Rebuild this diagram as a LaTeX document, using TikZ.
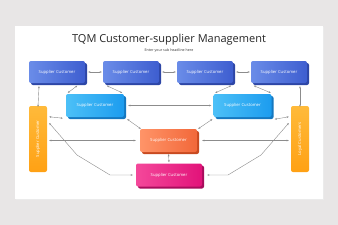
\documentclass[tikz,border=0pt]{standalone}
\usepackage{fontspec}
\setmainfont{Open Sans}
\usetikzlibrary{shadows,arrows.meta,calc}
\definecolor{bgc}{HTML}{E8E6E6}
\definecolor{blueL}{HTML}{6A8CE8}
\definecolor{blueR}{HTML}{3E5ED0}
\definecolor{blueD}{HTML}{2D46A6}
\definecolor{skyL}{HTML}{4CC0F7}
\definecolor{skyR}{HTML}{1C9CEF}
\definecolor{skyD}{HTML}{1578C0}
\definecolor{orL}{HTML}{FF9468}
\definecolor{orR}{HTML}{F2683A}
\definecolor{orD}{HTML}{C84A20}
\definecolor{pkL}{HTML}{F4489A}
\definecolor{pkR}{HTML}{E2137A}
\definecolor{pkD}{HTML}{A80D5C}
\definecolor{ylT}{HTML}{FFBA3A}
\definecolor{ylB}{HTML}{FFA114}
\definecolor{linec}{HTML}{8C8C8C}
\tikzset{
  box/.style={rounded corners=2pt, minimum width=56pt, minimum height=22pt, inner sep=0pt,
    text=white, font=\fontsize{4.2}{5}\selectfont},
  bluebox/.style={box, left color=blueL, right color=blueR,
    general shadow={shadow xshift=2pt, shadow yshift=-2pt, fill=blueD}},
  skybox/.style={box, minimum width=58pt, minimum height=23pt, left color=skyL, right color=skyR,
    general shadow={shadow xshift=2pt, shadow yshift=-2pt, fill=skyD}},
  orbox/.style={box, minimum width=57pt, minimum height=23pt, left color=orL, right color=orR,
    general shadow={shadow xshift=2pt, shadow yshift=-2pt, fill=orD}},
  pkbox/.style={box, minimum width=66pt, minimum height=23pt, left color=pkL, right color=pkR,
    general shadow={shadow xshift=2pt, shadow yshift=-2pt, fill=pkD}},
  bar/.style={rounded corners=2pt, minimum width=18pt, minimum height=66pt, inner sep=0pt,
    top color=ylT, bottom color=ylB, text=white, font=\fontsize{4.2}{5}\selectfont},
  conn/.style={draw=linec, line width=0.4pt, {Stealth[length=2.2pt,width=1.8pt]}-{Stealth[length=2.2pt,width=1.8pt]}}
}
\begin{document}
\begin{tikzpicture}[x=1pt,y=-1pt]
\fill[bgc] (0,0) rectangle (338,225);
\useasboundingbox (0,0) rectangle (338,225);
\fill[black!8] (15.6,26.6) rectangle (323.6,199.6);
\fill[white] (15,26) rectangle (323,199);
\node[font=\fontsize{11}{13}\selectfont, text=black!85] (title) at (169,40) {TQM Customer-supplier Management};
\node[font=\fontsize{3.6}{4}\selectfont, text=black!80] (sub) at (169,51) {Enter your sub headline here};

\node[bluebox] (b1) at (57,72) {Supplier Customer};
\node[bluebox] (b2) at (131,72) {Supplier Customer};
\node[bluebox] (b3) at (205,72) {Supplier Customer};
\node[bluebox] (b4) at (279,72) {Supplier Customer};
\node[skybox] (ma) at (95,105.5) {Supplier Customer};
\node[skybox] (mb) at (242.5,105.5) {Supplier Customer};
\node[orbox] (oc) at (168.5,140.5) {Supplier Customer};
\node[pkbox] (pk) at (169,175) {Supplier Customer};
\node[bar] (lb) at (38,139) {};
\node[rotate=90, text=white, font=\fontsize{4.2}{5}\selectfont] (lbt) at (lb.center) {Supplier Customer};
\node[bar] (rb) at (300,139) {};
\node[rotate=90, text=white, font=\fontsize{4.2}{5}\selectfont] (rbt) at (rb.center) {Loyal Customers};

% top row horizontal
\draw[conn] ([xshift=3pt]b1.east) -- ([xshift=-1pt]b2.west);
\draw[conn] ([xshift=3pt]b2.east) -- ([xshift=-1pt]b3.west);
\draw[conn] ([xshift=3pt]b3.east) -- ([xshift=-1pt]b4.west);
% verticals to bars
\draw[conn] ([xshift=-18pt,yshift=-3pt]b1.south) -- ([yshift=-1pt]lb.north);
\draw[conn] ([xshift=21pt,yshift=-3pt]b4.south) -- ([yshift=-1pt]rb.north);
% diagonals top to middle
\draw[conn] ([xshift=-8pt,yshift=-2.5pt]b1.south east) -- ([xshift=2pt,yshift=1pt]ma.north west);
\draw[conn] ([xshift=4pt,yshift=-2.5pt]b2.south west) -- ([xshift=-2pt,yshift=1pt]ma.north east);
\draw[conn] ([xshift=-2pt,yshift=-2.5pt]b3.south east) -- ([xshift=2pt,yshift=1pt]mb.north west);
\draw[conn] ([xshift=3pt,yshift=-2.5pt]b4.south west) -- ([xshift=-1pt,yshift=1pt]mb.north east);
% middle horizontal
\draw[conn] ([xshift=4pt]ma.east) -- ([xshift=-2pt]mb.west);
% middle to bars / orange
\draw[conn] ([xshift=-3pt,yshift=-1pt]ma.south west) -- ([xshift=2pt,yshift=-11pt]lb.north east);
\draw[conn] ([xshift=3pt,yshift=-2pt]ma.south east) -- ([xshift=1pt,yshift=0pt]oc.north west);
\draw[conn] ([xshift=-1pt,yshift=-2pt]mb.south west) -- ([xshift=1pt,yshift=0pt]oc.north east);
\draw[conn] ([xshift=3pt,yshift=-2pt]mb.south east) -- ([xshift=-2pt,yshift=-11pt]rb.north west);
% bars to orange
\draw[conn] ([xshift=2pt]lb.east |- oc.west) -- ([xshift=-4pt]oc.west);
\draw[conn] ([xshift=5pt]oc.east) -- ([xshift=-2pt]rb.west |- oc.east);
% orange to pink
\draw[conn] ([yshift=-2pt]oc.south) -- ([yshift=1pt]pk.north);
% bars to pink
\coordinate (l1) at (77,155);
\coordinate (l2) at (110,175);
\coordinate (r1) at (261,155);
\coordinate (r2) at (228,175);
\draw[conn] ([xshift=2pt,yshift=16pt]lb.east) -- (l1) -- (l2) -- ([xshift=-3pt]pk.west);
\draw[conn] ([xshift=-2pt,yshift=16pt]rb.west) -- (r1) -- (r2) -- ([xshift=5pt]pk.east);
\end{tikzpicture}
\end{document}
